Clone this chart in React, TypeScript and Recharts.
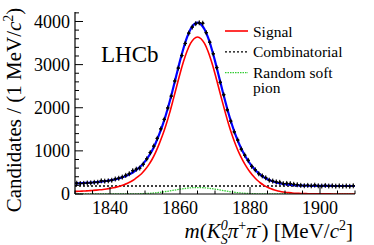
import { ComposedChart, Line, Scatter, XAxis, YAxis, Legend, Label, Customized } from 'recharts';

const SERIF = 'Liberation Serif, Times New Roman, serif';

// fit curves, 1 MeV steps starting at 1830
const FIT_START = 1830;
const signalFit = [
  60, 63, 67, 71, 76, 82, 89, 97, 106, 117,
  130, 146, 165, 188, 215, 250, 290, 340, 400, 470,
  560, 670, 800, 960, 1150, 1360, 1600, 1870, 2170, 2480,
  2790, 3070, 3310, 3490, 3600, 3640, 3600, 3490, 3310, 3070,
  2790, 2480, 2170, 1870, 1590, 1340, 1120, 930, 770, 630,
  510, 410, 325, 255, 200, 155, 120, 92, 70, 54,
  41, 31, 24, 18, 14, 11, 8, 6, 5, 4,
  3, 2, 2, 2, 1, 1, 1, 1, 1, 1, 1,
];
const softPionFit = [
  0, 0, 0, 0, 0, 0, 0, 0, 0, 0,
  0, 0, 0, 0, 0, 1, 2, 3, 5, 7,
  10, 14, 20, 27, 36, 46, 58, 71, 85, 99,
  112, 124, 135, 143, 148, 150, 148, 143, 135, 124,
  112, 99, 85, 71, 58, 46, 36, 27, 20, 14,
  10, 7, 5, 3, 2, 1, 0, 0, 0, 0,
  0, 0, 0, 0, 0, 0, 0, 0, 0, 0,
  0, 0, 0, 0, 0, 0, 0, 0, 0, 0, 0,
];
const combinatorialLevel = 185;

// data, 1 MeV bins centred at 1830.5 ... 1909.5
const BIN_START = 1830.5;
const dataCounts = [
  250, 243, 246, 255, 258, 270, 272, 305, 298, 305,
  318, 348, 365, 392, 432, 470, 540, 575, 600, 690,
  815, 960, 1110, 1290, 1510, 1730, 1995, 2270, 2620, 2920,
  3210, 3490, 3730, 3870, 3950, 3970, 3960, 3740, 3520, 3250,
  2930, 2590, 2300, 1950, 1690, 1440, 1250, 1040, 900, 780,
  640, 560, 470, 420, 375, 320, 300, 280, 270, 240,
  245, 240, 225, 215, 200, 192, 200, 190, 205, 190,
  185, 198, 185, 190, 182, 188, 180, 186, 178, 190,
];

const legendOrder = ['Signal', 'Combinatorial', 'Random soft pion'];
const xTicks = [1830, 1835, 1840, 1845, 1850, 1855, 1860, 1865, 1870, 1875, 1880, 1885, 1890, 1895, 1900, 1905, 1910];
const yTicks = [0, 200, 400, 600, 800, 1000, 1200, 1400, 1600, 1800, 2000, 2200, 2400, 2600, 2800, 3000, 3200, 3400, 3600, 3800, 4000, 4200];

const fitRows = signalFit.map((s, i) => ({
  m: FIT_START + i,
  signal: s,
  comb: combinatorialLevel,
  pion: softPionFit[i],
  total: s + combinatorialLevel + softPionFit[i],
}));
const dataRows = dataCounts.map((n, i) => ({ m: BIN_START + i, n }));

const Cross = (p: any) => (
  <g stroke="#000" strokeWidth={1}>
    <line x1={p.cx - 1.75} x2={p.cx + 1.75} y1={p.cy} y2={p.cy} />
    <line x1={p.cx} x2={p.cx} y1={p.cy - 2.5} y2={p.cy + 2.5} />
    <circle cx={p.cx} cy={p.cy} r={1} fill="#000" />
  </g>
);

const BottomTick = (p: any) => {
  const v = p.payload.value;
  const major = v % 20 === 0;
  return (
    <g>
      <line x1={p.x} x2={p.x} y1={p.y} y2={p.y - (major ? 7 : 3.5)} stroke="#000" />
      {major && (
        <text x={p.x} y={p.y + 20} textAnchor="middle" style={{ fontFamily: SERIF }} fontSize={18} fill="#000">{v}</text>
      )}
    </g>
  );
};
const TopTick = (p: any) => {
  const major = p.payload.value % 20 === 0;
  return <line x1={p.x} x2={p.x} y1={p.y} y2={p.y + (major ? 7 : 3.5)} stroke="#000" />;
};
const LeftTick = (p: any) => {
  const v = p.payload.value;
  const major = v % 1000 === 0;
  return (
    <g>
      <line x1={p.x} x2={p.x + (major ? 8 : 4)} y1={p.y} y2={p.y} stroke="#000" />
      {major && (
        <text x={p.x - 5} y={p.y} dy="0.35em" textAnchor="end" style={{ fontFamily: SERIF }} fontSize={18} fill="#000">{v}</text>
      )}
    </g>
  );
};
const RightTick = (p: any) => {
  const major = p.payload.value % 1000 === 0;
  return <line x1={p.x} x2={p.x - (major ? 8 : 4)} y1={p.y} y2={p.y} stroke="#000" />;
};

const YTitle = () => (
  <text transform="translate(21, 110) rotate(-90)" textAnchor="middle" style={{ fontFamily: SERIF }} fontSize={21} fill="#000">
    Candidates / (1 MeV/<tspan fontStyle="italic">c</tspan>
    <tspan dy={-8} fontSize={14}>2</tspan>
    <tspan dy={8}>)</tspan>
  </text>
);

const XTitle = () => (
  <text x={353} y={238} textAnchor="end" style={{ fontFamily: SERIF }} fontSize={21} fill="#000">
    <tspan fontStyle="italic">m</tspan>(<tspan fontStyle="italic">K</tspan>
    <tspan fontSize={14} dy={-8} fontStyle="italic">0</tspan>
    <tspan fontSize={14} dx={-7} dy={14} fontStyle="italic">S</tspan>
    <tspan dy={-6} fontStyle="italic">π</tspan>
    <tspan fontSize={14} dy={-8}>+</tspan>
    <tspan dy={8} fontStyle="italic">π</tspan>
    <tspan fontSize={14} dy={-8}>-</tspan>
    <tspan dy={8}>) [MeV/</tspan>
    <tspan fontStyle="italic">c</tspan>
    <tspan fontSize={14} dy={-8}>2</tspan>
    <tspan dy={8}>]</tspan>
  </text>
);

const FitLegend = (props: any) => {
  const items = (props.payload || [])
    .filter((e: any) => legendOrder.includes(e.value))
    .sort((a: any, b: any) => legendOrder.indexOf(a.value) - legendOrder.indexOf(b.value));
  return (
    <svg width={374} height={245} style={{ position: 'absolute', left: 0, top: 0 }}>
      {items.map((e: any, i: number) => {
        const y = 31 + i * 20.8;
        const words = String(e.value).split(' ');
        const first = words.length > 2 ? words.slice(0, 2).join(' ') : e.value;
        const rest = words.length > 2 ? words.slice(2).join(' ') : null;
        return (
          <g key={e.value}>
            <line x1={225} x2={248} y1={y} y2={y} stroke={e.color}
              strokeWidth={e.payload?.strokeWidth ?? 1.5} strokeDasharray={e.payload?.strokeDasharray} />
            <text x={253} y={y + 5.5} style={{ fontFamily: SERIF }} fontSize={15.5} fill="#000">{first}</text>
            {rest && <text x={253} y={y + 20} style={{ fontFamily: SERIF }} fontSize={15.5} fill="#000">{rest}</text>}
          </g>
        );
      })}
    </svg>
  );
};

const LhcbTag = () => (
  <text x={101} y={61.5} style={{ fontFamily: SERIF }} fontSize={23} fill="#000">LHCb</text>
);

export default function App() {
  return (
    <div style={{ position: 'absolute', left: 0, top: 0, width: 374, height: 245, background: '#fff' }}>
      <ComposedChart width={374} height={245} margin={{ top: 12, right: 19, bottom: 0, left: 0 }}>
        <XAxis xAxisId="b" dataKey="m" type="number" domain={[1830, 1910]} allowDataOverflow ticks={xTicks}
          interval={0} tick={BottomTick} tickSize={0} tickMargin={0} tickLine={false} height={51}
          axisLine={{ stroke: '#000', strokeWidth: 1.2 }}>
          <Label content={XTitle} />
        </XAxis>
        <XAxis xAxisId="t" orientation="top" dataKey="m" type="number" domain={[1830, 1910]} allowDataOverflow
          ticks={xTicks} interval={0} tick={TopTick} tickSize={0} tickMargin={0} tickLine={false} height={0}
          axisLine={{ stroke: '#000', strokeWidth: 1.2 }} />
        <YAxis yAxisId="l" dataKey="n" type="number" domain={[0, 4220]} allowDataOverflow ticks={yTicks}
          interval={0} tick={LeftTick} tickSize={0} tickMargin={0} tickLine={false} width={75}
          axisLine={{ stroke: '#000', strokeWidth: 1.2 }}>
          <Label content={YTitle} />
        </YAxis>
        <YAxis yAxisId="r" orientation="right" dataKey="n" type="number" domain={[0, 4220]} allowDataOverflow
          ticks={yTicks} interval={0} tick={RightTick} tickSize={0} tickMargin={0} tickLine={false} width={0}
          axisLine={{ stroke: '#000', strokeWidth: 1.2 }} />
        <Line xAxisId="b" yAxisId="l" data={fitRows} dataKey="pion" name="Random soft pion" type="monotone"
          stroke="#33cc33" strokeWidth={1.3} strokeDasharray="1.5 1" dot={false} isAnimationActive={false} />
        <Line xAxisId="b" yAxisId="l" data={fitRows} dataKey="comb" name="Combinatorial" type="monotone"
          stroke="#000000" strokeWidth={1.3} strokeDasharray="2 2" dot={false} isAnimationActive={false} />
        <Line xAxisId="b" yAxisId="l" data={fitRows} dataKey="signal" name="Signal" type="monotone"
          stroke="#ff0000" strokeWidth={1.6} dot={false} isAnimationActive={false} />
        <Line xAxisId="b" yAxisId="l" data={fitRows} dataKey="total" name="Total" legendType="none" type="monotone"
          stroke="#0000ff" strokeWidth={2.2} dot={false} isAnimationActive={false} />
        <Scatter xAxisId="b" yAxisId="l" data={dataRows} dataKey="n" name="Data" legendType="none"
          shape={Cross} isAnimationActive={false} />
        <Customized component={LhcbTag} />
        <Legend layout="vertical" align="center" verticalAlign="middle" content={FitLegend}
          wrapperStyle={{ left: 0, top: 0, width: 374, height: 245 }} />
      </ComposedChart>
    </div>
  );
}
